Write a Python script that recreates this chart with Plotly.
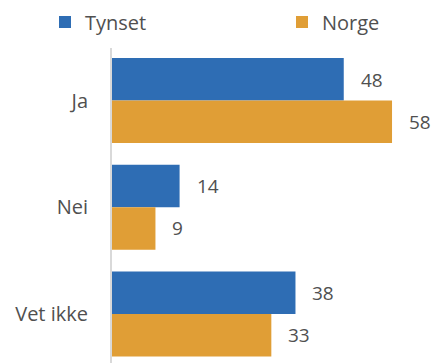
import plotly.graph_objects as go

categories = ["Ja", "Nei", "Vet ikke"]
tynset = [48, 14, 38]
norge = [58, 9, 33]
series_names = ["Tynset", "Norge"]
colors = ["#2E6DB4", "#E09E36"]

FONT = "Open Sans"
TXT = "#505050"
W, H = 433, 355  # page body adds an 8px offset

fig = go.Figure()
for i, (name, vals, col) in enumerate(zip(series_names, [tynset, norge], colors)):
    fig.add_trace(go.Bar(
        name=name, y=categories, x=vals, orientation="h",
        marker=dict(color=col, line=dict(width=0)),
        hoverinfo="skip",
        legend="legend" if i == 0 else "legend2",
    ))

annotations = []
for vals, shift in [(tynset, 21), (norge, -21)]:
    for c, v in zip(categories, vals):
        annotations.append(dict(
            x=v, y=c, xref="x", yref="y", text=str(v), showarrow=False,
            xanchor="left", yanchor="middle", xshift=15, yshift=shift,
            font=dict(family=FONT, size=19, color=TXT),
        ))

leg_common = dict(
    orientation="h", xref="container", yref="paper",
    y=1.0825, xanchor="left", yanchor="middle", itemwidth=30,
    font=dict(family=FONT, size=20, color=TXT), bgcolor="rgba(0,0,0,0)",
)

fig.update_layout(
    width=W, height=H,
    margin=dict(l=104, r=6, t=40, b=0, autoexpand=False),
    paper_bgcolor="white", plot_bgcolor="white",
    barmode="group", bargap=0.204, bargroupgap=0,
    font=dict(family=FONT, size=19, color=TXT),
    showlegend=True,
    legend=dict(x=37 / W, **leg_common),
    legend2=dict(x=274 / W, **leg_common),
    annotations=annotations,
    xaxis=dict(range=[0, 66.9], showgrid=False, zeroline=False,
               showticklabels=False, showline=False, fixedrange=True),
    yaxis=dict(type="category", range=[2.459, -0.492], showgrid=False,
               zeroline=False, showline=True, linecolor="#D9D9D9", linewidth=2,
               ticks="", ticklabelstandoff=18, automargin=False,
               tickfont=dict(family=FONT, size=20, color=TXT)),
)
fig.write_html("out.html")
